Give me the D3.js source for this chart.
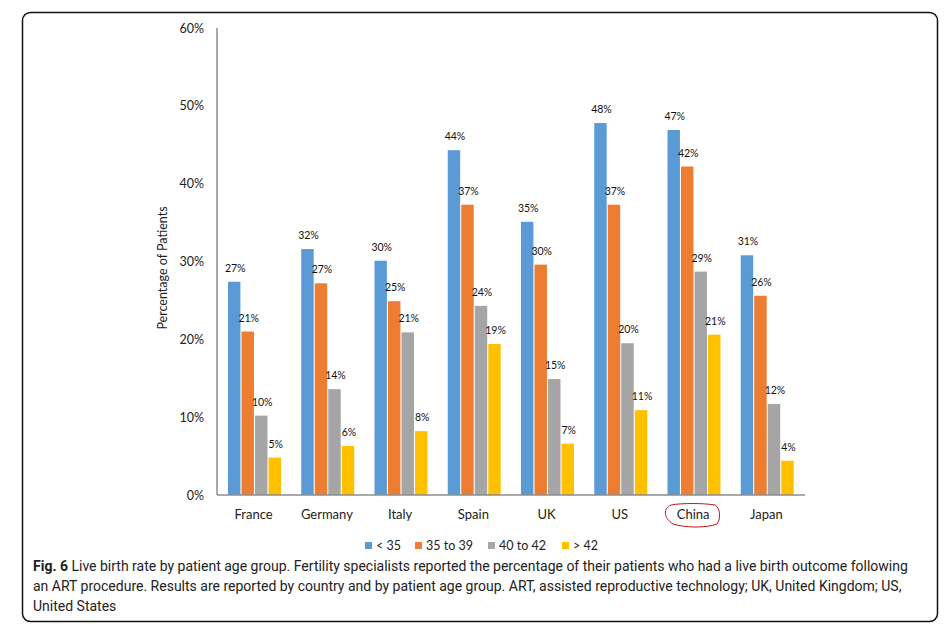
<!DOCTYPE html>
<html><head><meta charset="utf-8">
<script src="https://cdn.jsdelivr.net/npm/d3@7"></script>
<style>body{margin:0;background:#fff}svg{display:block}</style>
</head><body>
<svg id="c" width="945" height="632"></svg>
<script>
const countries = ["France","Germany","Italy","Spain","UK","US","China","Japan"];
const series = ["< 35","35 to 39","40 to 42","> 42"];
const under35 = [0.274,0.316,0.301,0.443,0.351,0.478,0.469,0.308];
const age35to39 = [0.210,0.272,0.249,0.373,0.296,0.373,0.422,0.256];
const age40to42 = [0.102,0.136,0.209,0.243,0.149,0.195,0.287,0.117];
const over42 = [0.048,0.063,0.082,0.194,0.066,0.109,0.206,0.044];
const yTicks = [0,0.1,0.2,0.3,0.4,0.5,0.6];
const colors = ["#5B9BD5","#ED7D31","#A5A5A5","#FFC000"];
const values = [under35, age35to39, age40to42, over42];
const captionLines = [
  ["Fig. 6", " Live birth rate by patient age group. Fertility specialists reported the percentage of their patients who had a live birth outcome following"],
  ["", "an ART procedure. Results are reported by country and by patient age group. ART, assisted reproductive technology; UK, United Kingdom; US,"],
  ["", "United States"]
];

const svg = d3.select("#c");
const font = "Lato, 'Open Sans', sans-serif";

// frame
svg.append("rect").attr("x",22.5).attr("y",12.5).attr("width",915).attr("height",609)
  .attr("rx",8).attr("fill","none").attr("stroke","#111").attr("stroke-width",1.5);

const y = d3.scaleLinear().domain([0,0.6]).range([495,28]);
const x = d3.scaleBand().domain(countries).range([217,803]);
const bw = x.bandwidth();
const x1 = d3.scaleBand().domain(series).range([bw*0.15, bw*0.15+53]).paddingInner(0.08);
const pct = d3.format(".0%");

// y tick labels
svg.append("g").selectAll("text").data(yTicks).join("text")
  .attr("x",204).attr("y",d=>y(d)+4.5).attr("text-anchor","end")
  .attr("font-family",font).attr("font-size",12.5).attr("fill","#222")
  .text(d=>pct(d));

// bars
const data = [];
countries.forEach((c,i)=>series.forEach((s,j)=>data.push({c,s,j,v:values[j][i]})));
const g = svg.append("g");
g.selectAll("rect").data(data).join("rect")
  .attr("x",d=>x(d.c)+x1(d.s)).attr("y",d=>y(d.v))
  .attr("width",x1.bandwidth()).attr("height",d=>y(0)-y(d.v))
  .attr("fill",d=>colors[d.j]);
g.selectAll("text").data(data).join("text")
  .attr("x",d=>x(d.c)+x1(d.s)+x1.bandwidth()/2+1).attr("y",d=>y(d.v)-10)
  .attr("text-anchor","middle").attr("font-family",font).attr("font-size",10.5).attr("fill","#111")
  .text(d=>pct(d.v));

// axes lines
svg.append("line").attr("x1",217).attr("x2",217).attr("y1",y(0.6)).attr("y2",y(0))
  .attr("stroke","#8c8c8c").attr("stroke-width",1.5);
svg.append("line").attr("x1",217).attr("x2",805).attr("y1",y(0)).attr("y2",y(0))
  .attr("stroke","#8c8c8c").attr("stroke-width",1.5);

// category labels
svg.append("g").selectAll("text").data(countries).join("text")
  .attr("x",d=>x(d)+bw/2).attr("y",519).attr("text-anchor","middle")
  .attr("font-family",font).attr("font-size",13).attr("fill","#222").text(d=>d);

// red annotation around China
const cx = x("China")+bw/2;
svg.append("path")
  .attr("d",`M${cx-22},${505} C${cx-30},${508} ${cx-30},${518} ${cx-20},${524} C${cx-8},${528} ${cx+14},${528} ${cx+24},${524} C${cx+28},${518} ${cx+27},${508} ${cx+22},${505} C${cx+10},${503} ${cx-12},${503} ${cx-22},${505}`)
  .attr("fill","none").attr("stroke","#c0141e").attr("stroke-width",1);

// y title
svg.append("text").attr("transform","translate(167,268) rotate(-90)")
  .attr("text-anchor","middle").attr("font-family",font).attr("font-size",12.5).attr("fill","#222")
  .text("Percentage of Patients");

// legend
const legX = [365,415,488,562];
const lg = svg.append("g").selectAll("g").data(series).join("g")
  .attr("transform",(d,i)=>`translate(${legX[i]},542)`);
lg.append("rect").attr("width",7).attr("height",7).attr("fill",(d,i)=>colors[i]);
lg.append("text").attr("x",11).attr("y",7.5).attr("font-family",font).attr("font-size",12.5)
  .attr("fill","#222").text(d=>d);

// caption: fit font size so line 1 spans the measured width
const capFont = "Roboto, 'Open Sans', sans-serif";
const texts = captionLines.map((ln,i)=>{
  const t = svg.append("text").attr("x",33).attr("y",571+i*20)
    .attr("font-family",capFont).attr("font-size",14).attr("fill","#222");
  if (ln[0]) t.append("tspan").attr("font-weight","bold").text(ln[0]);
  t.append("tspan").text(ln[1]);
  return t;
});
const natural = texts[0].node().getComputedTextLength();
const fs = Math.min(14, 14*880/natural);
texts.forEach(t=>t.attr("font-size",fs));
</script>
</body></html>
